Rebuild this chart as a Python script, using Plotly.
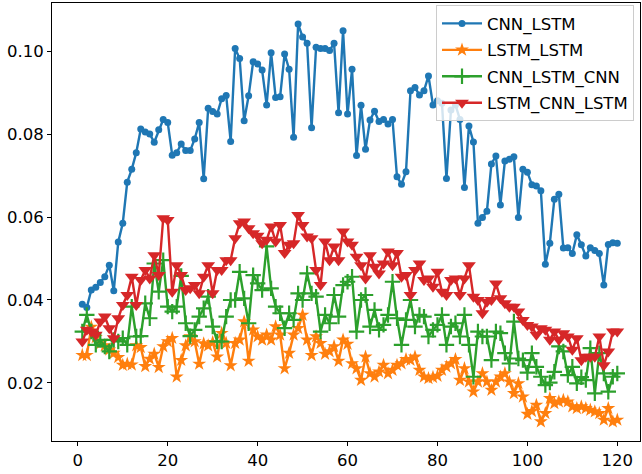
import plotly.graph_objects as go

x_vals = list(range(1, 121))

cnn_lstm = [0.0390, 0.0382, 0.0424, 0.0431, 0.0442, 0.0456, 0.0484, 0.0422, 0.0540, 0.0585,
            0.0684, 0.0715, 0.0755, 0.0812, 0.0805, 0.0800, 0.0780, 0.0810, 0.0835, 0.0828,
            0.0749, 0.0755, 0.0776, 0.0760, 0.0760, 0.0788, 0.0828, 0.0692, 0.0862, 0.0854,
            0.0848, 0.0885, 0.0893, 0.0782, 0.1006, 0.0982, 0.0832, 0.0892, 0.0974, 0.0969,
            0.0954, 0.0870, 0.0996, 0.0888, 0.0890, 0.0993, 0.0956, 0.0792, 0.1065, 0.1034,
            0.1019, 0.0815, 0.1009, 0.1006, 0.1006, 0.1001, 0.1019, 0.0851, 0.1049, 0.0848,
            0.0956, 0.0748, 0.0869, 0.0763, 0.0834, 0.0855, 0.0830, 0.0835, 0.0824, 0.0835,
            0.0697, 0.0679, 0.0709, 0.0904, 0.0912, 0.0894, 0.0904, 0.0940, 0.0870, 0.0880,
            0.0874, 0.0693, 0.0858, 0.0870, 0.0835, 0.0671, 0.0819, 0.0781, 0.0585, 0.0599,
            0.0614, 0.0728, 0.0747, 0.0629, 0.0735, 0.0739, 0.0745, 0.0599, 0.0715, 0.0708,
            0.0678, 0.0675, 0.0663, 0.0486, 0.0537, 0.0643, 0.0655, 0.0525, 0.0526, 0.0512,
            0.0557, 0.0533, 0.0506, 0.0526, 0.0519, 0.0512, 0.0436, 0.0534, 0.0538, 0.0537]

lstm_lstm = [0.0267, 0.0267, 0.0335, 0.0310, 0.0295, 0.0290, 0.0280, 0.0272, 0.0262, 0.0243,
             0.0246, 0.0244, 0.0290, 0.0286, 0.0240, 0.0258, 0.0270, 0.0238, 0.0288, 0.0300,
             0.0308, 0.0215, 0.0255, 0.0290, 0.0312, 0.0300, 0.0246, 0.0295, 0.0290, 0.0298,
             0.0263, 0.0320, 0.0296, 0.0242, 0.0296, 0.0304, 0.0348, 0.0253, 0.0328, 0.0312,
             0.0304, 0.0316, 0.0304, 0.0336, 0.0316, 0.0235, 0.0272, 0.0316, 0.0332, 0.0364,
             0.0304, 0.0267, 0.0312, 0.0296, 0.0270, 0.0276, 0.0288, 0.0253, 0.0304, 0.0294,
             0.0247, 0.0235, 0.0207, 0.0263, 0.0223, 0.0215, 0.0227, 0.0243, 0.0223, 0.0231,
             0.0243, 0.0247, 0.0257, 0.0255, 0.0263, 0.0231, 0.0215, 0.0211, 0.0214, 0.0217,
             0.0231, 0.0239, 0.0247, 0.0257, 0.0207, 0.0235, 0.0203, 0.0179, 0.0203, 0.0223,
             0.0203, 0.0183, 0.0203, 0.0215, 0.0223, 0.0203, 0.0175, 0.0199, 0.0167, 0.0125,
             0.0132, 0.0147, 0.0107, 0.0127, 0.0163, 0.0151, 0.0155, 0.0159, 0.0155, 0.0143,
             0.0139, 0.0143, 0.0139, 0.0135, 0.0131, 0.0127, 0.0111, 0.0139, 0.0107, 0.0111]

cnn_lstm_cnn = [0.0324, 0.0364, 0.0324, 0.0292, 0.0304, 0.0288, 0.0276, 0.0304, 0.0300, 0.0308,
                0.0292, 0.0384, 0.0312, 0.0313, 0.0392, 0.0356, 0.0488, 0.0420, 0.0496, 0.0384,
                0.0372, 0.0384, 0.0458, 0.0344, 0.0313, 0.0328, 0.0360, 0.0380, 0.0408, 0.0336,
                0.0300, 0.0300, 0.0360, 0.0400, 0.0400, 0.0468, 0.0404, 0.0344, 0.0460, 0.0440,
                0.0424, 0.0529, 0.0428, 0.0384, 0.0368, 0.0332, 0.0368, 0.0352, 0.0416, 0.0400,
                0.0464, 0.0416, 0.0408, 0.0324, 0.0364, 0.0344, 0.0412, 0.0360, 0.0436, 0.0444,
                0.0456, 0.0324, 0.0400, 0.0412, 0.0336, 0.0376, 0.0328, 0.0340, 0.0364, 0.0444,
                0.0356, 0.0292, 0.0352, 0.0400, 0.0336, 0.0364, 0.0360, 0.0312, 0.0328, 0.0340,
                0.0364, 0.0292, 0.0336, 0.0344, 0.0312, 0.0364, 0.0292, 0.0215, 0.0324, 0.0312,
                0.0312, 0.0255, 0.0324, 0.0320, 0.0272, 0.0247, 0.0348, 0.0259, 0.0255, 0.0225,
                0.0272, 0.0239, 0.0215, 0.0195, 0.0201, 0.0227, 0.0288, 0.0276, 0.0219, 0.0239,
                0.0199, 0.0214, 0.0207, 0.0284, 0.0175, 0.0272, 0.0223, 0.0179, 0.0215, 0.0223]

lstm_cnn_lstm = [0.0300, 0.0328, 0.0324, 0.0316, 0.0348, 0.0360, 0.0332, 0.0308, 0.0356, 0.0388,
                 0.0412, 0.0456, 0.0388, 0.0448, 0.0472, 0.0452, 0.0508, 0.0460, 0.0597, 0.0593,
                 0.0420, 0.0484, 0.0460, 0.0424, 0.0428, 0.0436, 0.0416, 0.0456, 0.0484, 0.0416,
                 0.0472, 0.0472, 0.0496, 0.0496, 0.0549, 0.0585, 0.0589, 0.0573, 0.0561, 0.0555,
                 0.0537, 0.0545, 0.0577, 0.0541, 0.0581, 0.0513, 0.0533, 0.0537, 0.0605, 0.0581,
                 0.0553, 0.0549, 0.0472, 0.0436, 0.0541, 0.0496, 0.0529, 0.0496, 0.0565, 0.0541,
                 0.0533, 0.0504, 0.0484, 0.0452, 0.0508, 0.0480, 0.0464, 0.0488, 0.0517, 0.0484,
                 0.0513, 0.0456, 0.0460, 0.0412, 0.0472, 0.0488, 0.0448, 0.0452, 0.0432, 0.0468,
                 0.0420, 0.0412, 0.0448, 0.0452, 0.0412, 0.0452, 0.0484, 0.0408, 0.0400, 0.0368,
                 0.0396, 0.0400, 0.0440, 0.0404, 0.0392, 0.0384, 0.0384, 0.0372, 0.0352, 0.0340,
                 0.0336, 0.0316, 0.0332, 0.0328, 0.0304, 0.0324, 0.0304, 0.0320, 0.0312, 0.0280,
                 0.0308, 0.0255, 0.0263, 0.0263, 0.0263, 0.0312, 0.0243, 0.0276, 0.0324, 0.0324]

x_ticks = [0, 20, 40, 60, 80, 100, 120]
y_ticks = [0.02, 0.04, 0.06, 0.08, 0.10]
y_tick_labels = ["0.02", "0.04", "0.06", "0.08", "0.10"]

series = [
    ("CNN_LSTM", cnn_lstm, "#1f77b4", dict(symbol="circle", size=7)),
    ("LSTM_LSTM", lstm_lstm, "#ff7f0e", dict(symbol="star", size=10.5)),
    ("CNN_LSTM_CNN", cnn_lstm_cnn, "#2ca02c", dict(symbol="cross-thin", size=11)),
    ("LSTM_CNN_LSTM", lstm_cnn_lstm, "#d62728", dict(symbol="triangle-down", size=12)),
]

fig = go.Figure()
for name, vals, color, mk in series:
    marker = dict(color=color, symbol=mk["symbol"], size=mk["size"],
                  line=dict(width=2.2 if mk["symbol"] == "cross-thin" else 0, color=color))
    fig.add_trace(go.Scatter(
        x=x_vals, y=vals, name=name, mode="lines+markers",
        line=dict(color=color, width=2.4), marker=marker,
        legendgroup=name,
    ))

axis_common = dict(
    showline=True, linecolor="black", linewidth=1, mirror=True,
    ticks="outside", ticklen=4, tickwidth=1, tickcolor="black",
    showgrid=False, zeroline=False,
    tickfont=dict(family="DejaVu Sans", size=16.5, color="black"),
)

fig.update_layout(
    width=642, height=474,
    margin=dict(l=52, r=2, t=3, b=33),
    paper_bgcolor="white", plot_bgcolor="white",
    font=dict(family="DejaVu Sans", color="black"),
    xaxis=dict(range=[-5.74, 125.05], tickvals=x_ticks, **axis_common),
    yaxis=dict(range=[0.00602, 0.11157], tickvals=y_ticks, ticktext=y_tick_labels, **axis_common),
    legend=dict(
        x=0.9898, y=0.995, xanchor="right", yanchor="top",
        bgcolor="rgba(255,255,255,0.8)", bordercolor="#cccccc", borderwidth=1,
        font=dict(family="DejaVu Sans", size=16.5, color="black"),
        traceorder="grouped", tracegroupgap=2, itemwidth=40,
    ),
    showlegend=True,
)

fig.write_html("out.html", post_script="document.body.style.margin='0';",
               config={"displayModeBar": False})
